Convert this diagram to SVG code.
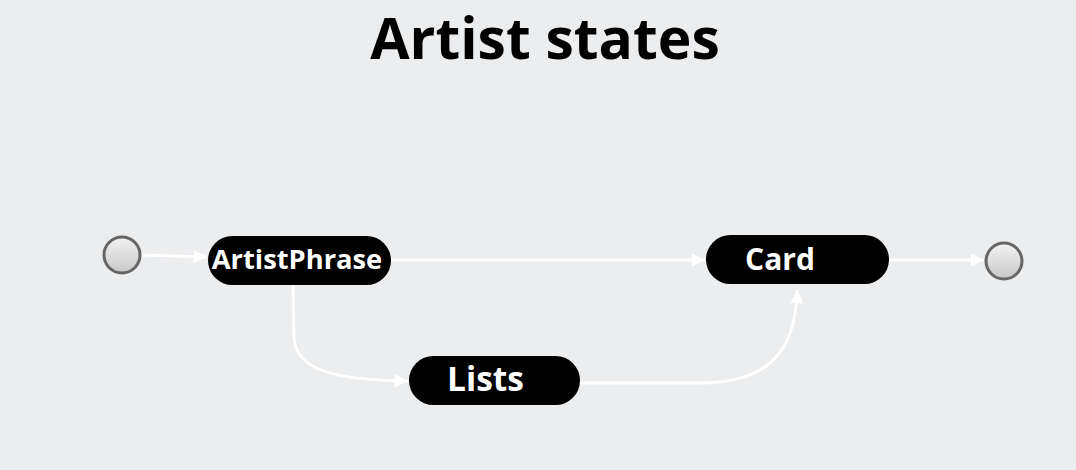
<svg xmlns="http://www.w3.org/2000/svg" width="1076" height="470" viewBox="0 0 1076 470">
<style>
.t{font-family:"Open Sans","Liberation Sans",sans-serif;font-weight:bold}
.st{fill:#000}
.lbl{fill:#fff}
.e{fill:none;stroke:#fff;stroke-width:3}
.pt{stroke:#666;stroke-width:3;fill:url(#g)}
</style>
<defs>
<linearGradient id="g" x1="0" y1="0" x2="0" y2="1"><stop offset="0" stop-color="#f2f2f2"/><stop offset="1" stop-color="#c8c8c8"/></linearGradient>
<marker id="a" viewBox="0 0 10 10" refX="10" refY="5" markerWidth="4.5" markerHeight="4.5" orient="auto" markerUnits="strokeWidth"><path d="M0,0L10,5L0,10z" fill="#fff"/></marker>
</defs>
<rect width="1076" height="470" fill="#ECEDEF"/>
<text class="t" x="545" y="59" font-size="57" text-anchor="middle">Artist states</text>
<g id="connectors">
<path class="e" marker-end="url(#a)" d="M142,255 L207,257"/>
<path class="e" marker-end="url(#a)" d="M391,260 L705,260"/>
<path class="e" marker-end="url(#a)" d="M889,260 L984,260"/>
<path class="e" marker-end="url(#a)" d="M293,285 L294,338 C296,372 340,380 408,381"/>
<path class="e" marker-end="url(#a)" d="M580,383 L700,383 C770,383 796,350 797,290"/>
</g>
<g id="start"><circle class="pt" cx="122" cy="255" r="18"/></g>
<g id="ArtistPhrase"><rect class="st" x="208" y="236" width="183" height="49" rx="24.5"/><text class="t lbl" x="297" y="269" font-size="27.3" text-anchor="middle">ArtistPhrase</text></g>
<g id="Card"><rect class="st" x="706" y="235" width="183" height="49" rx="24.5"/><text class="t lbl" x="780" y="270" font-size="30" text-anchor="middle">Card</text></g>
<g id="Lists"><rect class="st" x="409" y="356" width="171" height="49" rx="24.5"/><text class="t lbl" x="485.5" y="391" font-size="33.5" text-anchor="middle">Lists</text></g>
<g id="end"><circle class="pt" cx="1004" cy="261" r="18"/></g>
</svg>
